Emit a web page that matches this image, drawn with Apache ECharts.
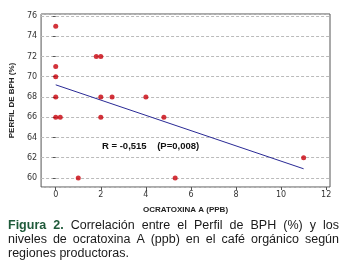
<!DOCTYPE html>
<html>
<head>
<meta charset="utf-8">
<script src="https://cdn.jsdelivr.net/npm/echarts@6/dist/echarts.min.js"></script>
<style>
  html, body { margin: 0; padding: 0; background: #fff; }
  #chart { width: 347px; height: 268px; }
</style>
</head>
<body>
<div id="chart"></div>
<script>
// ocratoxina A (ppb) vs perfil de BPH (%)
const ochratoxin = [0, 0, 0, 0, 0, 0.2, 1, 1.8, 2, 2, 2, 2.5, 4, 4.8, 5.3, 11];
const bphProfile = [75, 71, 70, 68, 66, 66, 60, 72, 72, 68, 66, 68, 68, 66, 60, 62];

// fitted line
const fitX = [0, 11];
const fitY = [69.2, 60.9];

const yTicks = [60, 62, 64, 66, 68, 70, 72, 74, 76];
const xTicks = [0, 2, 4, 6, 8, 10, 12];

const statText = "R = -0,515    (P=0,008)";
// first two words of line 1 are the bold label
const captionLines = [
  ["Figura", "2.", "Correlación", "entre", "el", "Perfil", "de", "BPH", "(%)", "y", "los"],
  ["niveles", "de", "ocratoxina", "A", "(ppb)", "en", "el", "café", "orgánico", "según"],
  ["regiones", "productoras."]
];

const chart = echarts.init(document.getElementById("chart"), null, { renderer: "canvas" });

const axisFont = "Tahoma, 'DejaVu Sans', sans-serif";
const nameFont = "'Liberation Sans Narrow', 'Liberation Sans', sans-serif";
const capFont = "12.5px 'Liberation Sans', Arial, sans-serif";
const capBold = "bold 12.5px 'Liberation Sans', Arial, sans-serif";

// justify caption words between x=8 and x=339
const measure = document.createElement("canvas").getContext("2d");
function textWidth(t, f) { measure.font = f; return measure.measureText(t).width; }

const captionGraphics = [];
captionLines.forEach((words, li) => {
  const fonts = words.map((w, wi) => (li === 0 && wi < 2 ? capBold : capFont));
  const widths = words.map((w, wi) => textWidth(w, fonts[wi]));
  const total = widths.reduce((a, b) => a + b, 0);
  const justify = li < captionLines.length - 1;
  const gap = justify ? (331 - total) / (words.length - 1) : textWidth(" ", capFont);
  let x = 8;
  words.forEach((w, wi) => {
    captionGraphics.push({
      type: "text",
      left: x,
      top: 219 + li * 14,
      style: {
        text: w,
        font: fonts[wi],
        fill: li === 0 && wi < 2 ? "#1f5a3a" : "#1a1a1a"
      }
    });
    x += widths[wi] + gap;
  });
});

chart.setOption({
  animation: false,
  backgroundColor: "#ffffff",
  grid: {
    left: 36, right: 17, top: 14, bottom: 81,
    show: true,
    borderColor: "#555",
    borderWidth: 1
  },
  xAxis: {
    type: "value",
    min: -0.65,
    max: 12.17,
    splitNumber: 6,
    name: "OCRATOXINA A (PPB)",
    nameLocation: "middle",
    nameGap: 19,
    nameTextStyle: { fontFamily: nameFont, fontSize: 8, fontWeight: "bold", color: "#222" },
    axisLine: { show: false },
    axisTick: { show: true, length: 3, lineStyle: { color: "#555" } },
    splitLine: { show: false },
    axisLabel: {
      fontFamily: axisFont, fontSize: 8, color: "#333", margin: 4,
      showMinLabel: false, showMaxLabel: false,
      formatter: (v) => (xTicks.includes(Math.round(v * 1000) / 1000) ? String(v) : "")
    }
  },
  yAxis: {
    type: "value",
    min: 59.1,
    max: 76.2,
    splitNumber: 8,
    name: "PERFIL DE BPH (%)",
    nameLocation: "middle",
    nameGap: 22,
    nameTextStyle: { fontFamily: nameFont, fontSize: 8, fontWeight: "bold", color: "#222" },
    axisLine: { show: false },
    axisTick: { show: true, length: 3, lineStyle: { color: "#555" } },
    splitLine: { show: true, lineStyle: { color: "#bbb", type: [3, 2], width: 1 } },
    axisLabel: {
      fontFamily: axisFont, fontSize: 8, color: "#333", margin: 4,
      showMinLabel: false, showMaxLabel: false,
      formatter: (v) => (yTicks.includes(Math.round(v * 1000) / 1000) ? String(v) : "")
    }
  },
  series: [
    {
      type: "line",
      data: fitX.map((x, i) => [x, fitY[i]]),
      symbol: "none",
      lineStyle: { color: "#2a2a96", width: 1 },
      z: 2
    },
    {
      type: "scatter",
      data: ochratoxin.map((x, i) => [x, bphProfile[i]]),
      symbol: "circle",
      symbolSize: 5,
      itemStyle: { color: "#c8000a" },
      z: 3
    }
  ],
  graphic: [
    {
      type: "text",
      left: 102,
      top: 141,
      style: {
        text: statText,
        font: "bold 9.5px 'Liberation Sans', Arial, sans-serif",
        fill: "#111"
      }
    },
    ...captionGraphics
  ]
});
</script>
</body>
</html>
